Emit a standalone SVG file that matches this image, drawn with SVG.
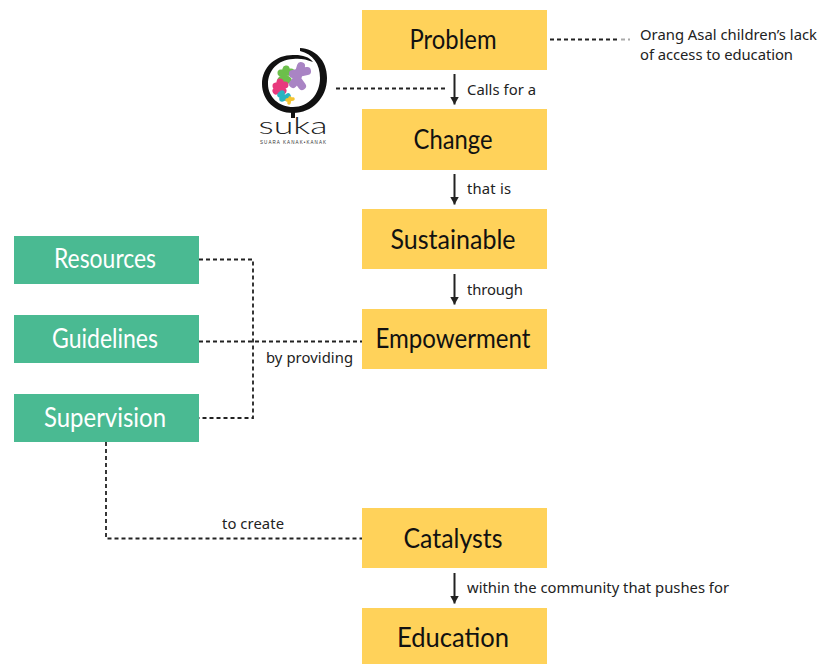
<svg xmlns="http://www.w3.org/2000/svg" width="833" height="664" viewBox="0 0 833 664">
<style>
.y{fill:#ffd25a}.g{fill:#4aba92}
.n{font-family:"Lato","Noto Sans",sans-serif;font-size:27px;text-anchor:middle}
.ny{fill:#111}.ng{fill:#fff}
.t{font-family:"Noto Sans","Lato",sans-serif;font-size:14.8px;fill:#222}
.d{fill:none;stroke:#222;stroke-width:1.8;stroke-dasharray:4 3}
.a{fill:none;stroke:#222;stroke-width:2;marker-end:url(#ah)}
.f{fill:none;stroke-linecap:round;stroke-linejoin:round}
</style>
<defs><marker id="ah" markerUnits="userSpaceOnUse" markerWidth="10" markerHeight="9" refX="8" refY="4.5" orient="auto"><path d="M0 0L8 4.500L0 9Z" fill="#222"/></marker></defs>
<rect width="833" height="664" fill="#fff"/>
<g id="connectors">
<path class="d" d="M550 39.500H620"/><path d="M621 39.500H630" fill="none" stroke="#aaa" stroke-width="1.800" stroke-dasharray="4 3"/>
<path class="d" d="M336 88.500H446"/>
<path class="d" d="M199 259.500H253V418H199"/>
<path class="d" d="M199 341.500H362"/>
<path class="d" d="M106 442V538.500H362"/>
<path class="a" d="M454.500 74V104.500"/>
<path class="a" d="M454.500 174V204.500"/>
<path class="a" d="M454.500 274V304.500"/>
<path class="a" d="M454.500 573V603.500"/>
</g>
<g id="problem"><rect class="y" x="362" y="10" width="185" height="60"/><text class="n ny" x="453" y="49" textLength="87" lengthAdjust="spacingAndGlyphs">Problem</text></g>
<g id="change"><rect class="y" x="362" y="109" width="185" height="61"/><text class="n ny" x="453" y="149" textLength="79" lengthAdjust="spacingAndGlyphs">Change</text></g>
<g id="sustainable"><rect class="y" x="362" y="209" width="185" height="60"/><text class="n ny" x="453" y="249" textLength="125" lengthAdjust="spacingAndGlyphs">Sustainable</text></g>
<g id="empowerment"><rect class="y" x="362" y="309" width="185" height="60"/><text class="n ny" x="453" y="348" textLength="155" lengthAdjust="spacingAndGlyphs">Empowerment</text></g>
<g id="catalysts"><rect class="y" x="362" y="508" width="185" height="60"/><text class="n ny" x="453" y="548" textLength="99" lengthAdjust="spacingAndGlyphs">Catalysts</text></g>
<g id="education"><rect class="y" x="362" y="608" width="185" height="56"/><text class="n ny" x="453" y="647" textLength="112" lengthAdjust="spacingAndGlyphs">Education</text></g>
<g id="resources"><rect class="g" x="14" y="236" width="185" height="48"/><text class="n ng" x="105" y="268" textLength="102" lengthAdjust="spacingAndGlyphs">Resources</text></g>
<g id="guidelines"><rect class="g" x="14" y="315" width="185" height="48"/><text class="n ng" x="105" y="348" textLength="106" lengthAdjust="spacingAndGlyphs">Guidelines</text></g>
<g id="supervision"><rect class="g" x="14" y="394" width="185" height="48"/><text class="n ng" x="105" y="427" textLength="122" lengthAdjust="spacingAndGlyphs">Supervision</text></g>
<g id="suka-logo">
<path d="M300 48C315 49 327 60 327 78C327 98 312 113 293 113C275 113 262 100 262 84C262 66 277 54 295 55C303 55 309 57 313 62C306 59 299 58 293 59C277 60 268 71 268 84C268 97 279 107 293 107C309 107 320 94 320 78C320 64 313 54 300 51Z" fill="#111"/>
<path d="M291 112H295V118H291Z" fill="#111"/>
<path class="f" stroke="#6cbf4b" stroke-width="7" d="M286 69L284 77M281 73L291 72M284 77L281 80M284 77L288 80"/>
<path class="f" stroke="#a984c4" stroke-width="8" d="M301 66L297 79M293 74L307 71M297 79L293 84M297 79L302 86"/>
<path class="f" stroke="#e8397d" stroke-width="7" d="M280 82L279 89M276 86L285 85M279 89L276 91M279 89L283 91"/>
<path class="f" stroke="#2bb3c0" stroke-width="5.500" d="M280 95L285 98M282 93L282 99M285 98L288 96"/>
<path class="f" stroke="#f4c430" stroke-width="3.500" d="M290 98L289 103M287 100L293 99"/>
<text x="293" y="134" font-family="'Lato',sans-serif" font-weight="300" font-size="24" fill="#222" text-anchor="middle" textLength="69" lengthAdjust="spacingAndGlyphs">suka</text>
<text x="293" y="144" font-family="'Liberation Sans',sans-serif" font-size="4.500" fill="#333" text-anchor="middle" textLength="66">SUARA KANAK•KANAK</text>
</g>
<g id="labels">
<text class="t" x="640" y="40" textLength="177">Orang Asal children’s lack</text>
<text class="t" x="640" y="60" textLength="153">of access to education</text>
<text class="t" x="467" y="95" textLength="69">Calls for a</text>
<text class="t" x="467" y="194" textLength="44">that is</text>
<text class="t" x="467" y="295" textLength="56">through</text>
<text class="t" x="266" y="363" textLength="87">by providing</text>
<text class="t" x="222" y="529" textLength="62">to create</text>
<text class="t" x="467" y="593" textLength="262">within the community that pushes for</text>
</g>
</svg>
